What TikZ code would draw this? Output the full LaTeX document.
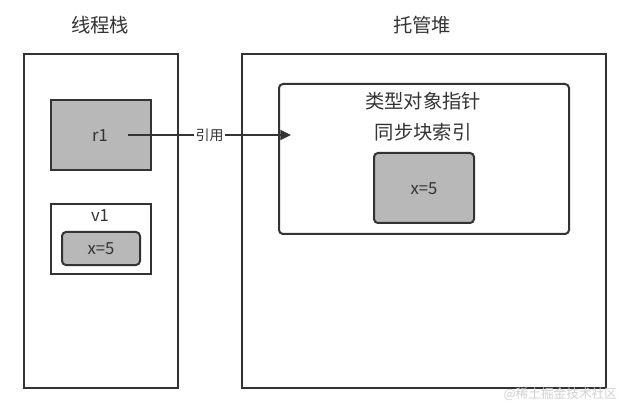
\documentclass[tikz,border=0pt]{standalone}
\usepackage{fontspec}
\setmainfont{Noto Sans CJK SC}
\usetikzlibrary{arrows.meta}

\tikzset{every picture/.style={line width=0.75pt}}
\tikzset{
  boxline/.style={draw=black!80, line width=1.5pt},
  grayfill/.style={boxline, fill=black!28},
  title/.style={font=\fontsize{14.5}{17}\selectfont, text=black!80},
  label/.style={font=\fontsize{12.5}{15}\selectfont, text=black!80},
}

\begin{document}
\begin{tikzpicture}[x=0.75pt,y=0.75pt,yscale=-1,xscale=1]
	\path (0,0) rectangle (632,417); %set diagram size

	% Titles
	\node [title] (stacktitle) at (100,25) {线程栈};
	\node [title] (heaptitle) at (422,25) {托管堆};

	%Shape: Rectangle [id:stack]
	\draw [boxline] (24,54) rectangle (178,388);
	%Shape: Rectangle [id:heap]
	\draw [boxline] (242,54) rectangle (606,388);

	%Shape: Rectangle [id:r1]
	\draw [grayfill] (51,100) rectangle (151,170);
	\node [label] (r1) at (100,136) {r1};

	%Shape: Rectangle [id:v1]
	\draw [boxline] (51,204) rectangle (151,274);
	\node [label] (v1) at (100,216) {v1};
	%Shape: Rounded Rect [id:v1x]
	\draw [grayfill, rounded corners=3pt] (62,232) rectangle (140,265);
	\node [label] (v1x) at (101,249) {x=5};

	%Shape: Rounded Rect [id:obj]
	\draw [boxline, rounded corners=3pt] (279,84) rectangle (569,234);
	\node [title] (typeptr) at (423,101) {类型对象指针};
	\node [title] (syncidx) at (423,132) {同步块索引};
	%Shape: Rounded Rect [id:objx]
	\draw [grayfill, rounded corners=3pt] (374,153) rectangle (474,223);
	\node [label] (objx) at (424,189) {x=5};

	%Straight Lines [id:ref]
	\coordinate (refstart) at (128,135);
	\coordinate (refend) at (291,135);
	\draw [draw=black!80, line width=1.5pt, -{Triangle[length=8pt,width=7.5pt]}] (refstart) -- (refend)
		node [pos=0.5, fill=white, inner sep=1pt, font=\fontsize{10.5}{12}\selectfont, text=black!80] (reflabel) {引用};

	% Text Node
	\node [anchor=east, font=\fontsize{9.5}{11}\selectfont, text=black!18] (mark) at (622,394) {@稀土掘金技术社区};

\end{tikzpicture}
\end{document}
